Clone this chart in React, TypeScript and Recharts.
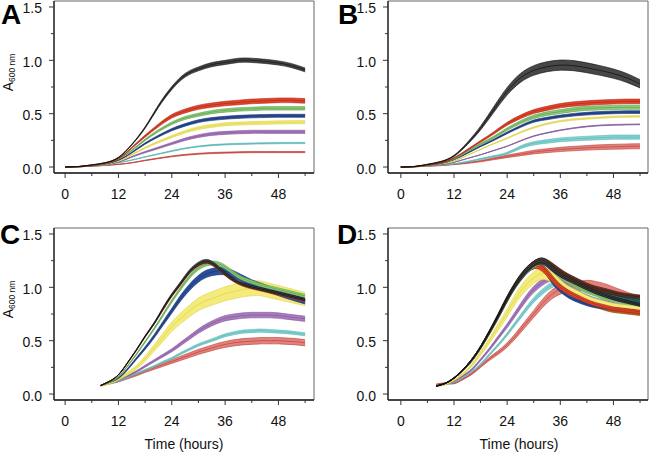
import React from 'react';
import { ComposedChart, Area, Line, XAxis, YAxis, ReferenceArea } from 'recharts';

// sampling times (hours)
const timeAB = [0, 3, 6, 9, 12, 15, 18, 21, 24, 27, 30, 33, 36, 39, 42, 45, 48, 51, 54];
const timeCD = [8, 10, 12, 14, 16, 18, 20, 22, 24, 26, 28, 30, 32, 34, 36, 38, 40, 42, 44, 46, 48, 50, 52, 54];

const xTicks = [0, 6, 12, 18, 24, 30, 36, 42, 48, 54];
const yTicks = [0, 0.25, 0.5, 0.75, 1, 1.25, 1.5];

// panel A
const aBlack = [0, 0.005, 0.02, 0.04, 0.09, 0.21, 0.37, 0.57, 0.74, 0.86, 0.92, 0.96, 0.98, 1.0, 1.0, 0.99, 0.975, 0.95, 0.91];
const aRed = [0, 0.004, 0.015, 0.035, 0.08, 0.18, 0.29, 0.39, 0.475, 0.525, 0.56, 0.58, 0.595, 0.605, 0.615, 0.62, 0.625, 0.625, 0.62];
const aGreen = [0, 0.004, 0.013, 0.032, 0.075, 0.155, 0.255, 0.34, 0.41, 0.46, 0.49, 0.515, 0.53, 0.54, 0.545, 0.55, 0.55, 0.55, 0.55];
const aBlue = [0, 0.003, 0.012, 0.03, 0.065, 0.135, 0.22, 0.29, 0.35, 0.395, 0.43, 0.45, 0.462, 0.47, 0.475, 0.478, 0.48, 0.48, 0.48];
const aYellow = [0, 0.003, 0.011, 0.027, 0.055, 0.115, 0.18, 0.235, 0.285, 0.33, 0.365, 0.385, 0.4, 0.407, 0.412, 0.415, 0.418, 0.42, 0.42];
const aPurple = [0, 0.003, 0.01, 0.024, 0.047, 0.095, 0.14, 0.18, 0.22, 0.26, 0.29, 0.31, 0.32, 0.326, 0.33, 0.33, 0.33, 0.33, 0.33];
const aCyan = [0, 0.002, 0.009, 0.02, 0.04, 0.065, 0.095, 0.122, 0.15, 0.175, 0.193, 0.205, 0.212, 0.217, 0.22, 0.222, 0.224, 0.225, 0.225];
const aSalmon = [0, 0.002, 0.008, 0.015, 0.025, 0.04, 0.062, 0.082, 0.1, 0.114, 0.124, 0.131, 0.135, 0.138, 0.14, 0.14, 0.14, 0.14, 0.14];

// panel B
const bBlack = [0, 0.005, 0.025, 0.05, 0.105, 0.22, 0.365, 0.54, 0.71, 0.835, 0.905, 0.94, 0.955, 0.95, 0.93, 0.905, 0.875, 0.835, 0.78];
const bRed = [0, 0.004, 0.018, 0.04, 0.085, 0.16, 0.24, 0.32, 0.405, 0.47, 0.52, 0.55, 0.575, 0.59, 0.6, 0.607, 0.612, 0.615, 0.615];
const bGreen = [0, 0.004, 0.016, 0.037, 0.075, 0.145, 0.215, 0.28, 0.355, 0.42, 0.47, 0.5, 0.52, 0.538, 0.55, 0.555, 0.558, 0.56, 0.56];
const bBlue = [0, 0.003, 0.015, 0.034, 0.07, 0.13, 0.195, 0.255, 0.32, 0.38, 0.43, 0.455, 0.475, 0.49, 0.5, 0.507, 0.512, 0.515, 0.515];
const bYellow = [0, 0.003, 0.013, 0.03, 0.055, 0.11, 0.165, 0.22, 0.27, 0.325, 0.37, 0.405, 0.43, 0.445, 0.455, 0.463, 0.47, 0.473, 0.475];
const bPurple = [0, 0.003, 0.012, 0.025, 0.045, 0.08, 0.115, 0.155, 0.195, 0.245, 0.29, 0.32, 0.345, 0.365, 0.38, 0.39, 0.395, 0.398, 0.4];
const bCyan = [0, 0.002, 0.01, 0.02, 0.03, 0.05, 0.075, 0.1, 0.13, 0.185, 0.222, 0.24, 0.255, 0.263, 0.27, 0.275, 0.28, 0.28, 0.28];
const bSalmon = [0, 0.002, 0.008, 0.015, 0.025, 0.038, 0.055, 0.078, 0.1, 0.12, 0.14, 0.153, 0.165, 0.173, 0.18, 0.186, 0.19, 0.193, 0.195];

// panel C
const cBlack = [0.08, 0.12, 0.18, 0.29, 0.41, 0.54, 0.66, 0.8, 0.93, 1.04, 1.15, 1.22, 1.245, 1.2, 1.13, 1.07, 1.03, 1.005, 0.985, 0.965, 0.945, 0.925, 0.905, 0.885];
const cRed = [0.08, 0.12, 0.18, 0.29, 0.41, 0.54, 0.66, 0.79, 0.92, 1.03, 1.14, 1.21, 1.235, 1.19, 1.12, 1.06, 1.02, 0.995, 0.975, 0.955, 0.935, 0.915, 0.895, 0.875];
const cGreen = [0.08, 0.11, 0.16, 0.26, 0.37, 0.49, 0.61, 0.74, 0.87, 0.99, 1.1, 1.18, 1.22, 1.225, 1.19, 1.13, 1.08, 1.05, 1.02, 1.0, 0.98, 0.96, 0.94, 0.92];
const cBlue = [0.08, 0.11, 0.15, 0.23, 0.33, 0.43, 0.54, 0.66, 0.78, 0.9, 1.0, 1.08, 1.13, 1.15, 1.15, 1.12, 1.08, 1.04, 1.01, 0.98, 0.95, 0.92, 0.895, 0.87];
const cYellow = [0.08, 0.1, 0.14, 0.19, 0.25, 0.33, 0.43, 0.53, 0.63, 0.71, 0.78, 0.84, 0.88, 0.91, 0.94, 0.96, 0.98, 0.99, 0.99, 0.97, 0.95, 0.93, 0.91, 0.89];
const cPurple = [0.08, 0.1, 0.13, 0.17, 0.21, 0.26, 0.31, 0.36, 0.41, 0.47, 0.53, 0.59, 0.64, 0.68, 0.71, 0.725, 0.735, 0.74, 0.74, 0.74, 0.735, 0.725, 0.715, 0.705];
const cCyan = [0.08, 0.1, 0.12, 0.155, 0.19, 0.225, 0.26, 0.3, 0.335, 0.38, 0.42, 0.46, 0.49, 0.52, 0.55, 0.57, 0.585, 0.59, 0.594, 0.59, 0.585, 0.58, 0.57, 0.56];
const cSalmon = [0.08, 0.1, 0.12, 0.15, 0.18, 0.215, 0.245, 0.275, 0.305, 0.335, 0.365, 0.395, 0.42, 0.445, 0.465, 0.48, 0.49, 0.495, 0.5, 0.5, 0.5, 0.495, 0.49, 0.48];

// panel D
const dBlack = [0.075, 0.1, 0.15, 0.225, 0.32, 0.44, 0.585, 0.74, 0.9, 1.04, 1.15, 1.225, 1.255, 1.19, 1.115, 1.07, 1.03, 0.99, 0.955, 0.925, 0.9, 0.875, 0.855, 0.835];
const dRed = [0.075, 0.1, 0.15, 0.225, 0.32, 0.44, 0.585, 0.74, 0.9, 1.03, 1.14, 1.2, 1.17, 1.08, 1.0, 0.95, 0.91, 0.87, 0.84, 0.82, 0.8, 0.79, 0.78, 0.77];
const dGreen = [0.075, 0.1, 0.15, 0.22, 0.31, 0.43, 0.57, 0.72, 0.88, 1.02, 1.13, 1.2, 1.23, 1.17, 1.1, 1.05, 1.0, 0.96, 0.93, 0.9, 0.88, 0.86, 0.85, 0.84];
const dBlue = [0.075, 0.1, 0.15, 0.22, 0.31, 0.43, 0.57, 0.72, 0.88, 1.02, 1.13, 1.19, 1.18, 1.06, 0.97, 0.91, 0.87, 0.84, 0.82, 0.81, 0.8, 0.79, 0.78, 0.77];
const dYellow = [0.075, 0.09, 0.13, 0.19, 0.27, 0.38, 0.5, 0.63, 0.76, 0.9, 1.01, 1.09, 1.13, 1.1, 1.02, 0.96, 0.92, 0.88, 0.85, 0.83, 0.81, 0.8, 0.79, 0.78];
const dPurple = [0.075, 0.09, 0.12, 0.17, 0.23, 0.32, 0.42, 0.53, 0.64, 0.76, 0.88, 0.98, 1.05, 1.09, 1.05, 0.99, 0.94, 0.9, 0.87, 0.85, 0.83, 0.81, 0.8, 0.79];
const dCyan = [0.075, 0.09, 0.11, 0.155, 0.21, 0.28, 0.37, 0.46, 0.56, 0.67, 0.78, 0.88, 0.96, 1.02, 1.04, 1.0, 0.95, 0.91, 0.88, 0.86, 0.84, 0.82, 0.81, 0.8];
const dSalmon = [0.09, 0.1, 0.1, 0.14, 0.19, 0.26, 0.33, 0.39, 0.46, 0.55, 0.65, 0.75, 0.85, 0.93, 0.98, 1.0, 1.01, 1.02, 1.01, 0.99, 0.96, 0.93, 0.9, 0.87];
const dTeal = [0.075, 0.1, 0.15, 0.225, 0.32, 0.44, 0.58, 0.73, 0.89, 1.03, 1.14, 1.22, 1.24, 1.2, 1.14, 1.09, 1.05, 1.01, 0.98, 0.95, 0.93, 0.91, 0.89, 0.87];
const dPlum = [0.075, 0.1, 0.15, 0.225, 0.32, 0.44, 0.58, 0.73, 0.89, 1.03, 1.14, 1.22, 1.24, 1.18, 1.12, 1.08, 1.04, 1.0, 0.96, 0.93, 0.9, 0.88, 0.86, 0.84];
const dBrown = [0.075, 0.1, 0.15, 0.225, 0.32, 0.44, 0.585, 0.74, 0.9, 1.04, 1.15, 1.22, 1.25, 1.21, 1.15, 1.1, 1.06, 1.02, 0.99, 0.97, 0.95, 0.93, 0.92, 0.91];
const dOrange = [0.075, 0.1, 0.15, 0.22, 0.31, 0.43, 0.57, 0.72, 0.88, 1.02, 1.13, 1.21, 1.19, 1.1, 1.01, 0.95, 0.9, 0.86, 0.83, 0.8, 0.78, 0.77, 0.76, 0.75];

const C = {
  black: ['#474747', '#0d0d0d'],
  red: ['#e3442c', '#b02a17'],
  green: ['#8fcd7b', '#5c9f4a'],
  blue: ['#2c4f9e', '#1a336e'],
  yellow: ['#f3ec7a', '#ddd24c'],
  purple: ['#a97abc', '#875a9c'],
  cyan: ['#88d5d3', '#59b6b3'],
  salmon: ['#e2827c', '#c03f3a'],
  teal: ['#1f6d6c', '#104544'],
  plum: ['#4c2a6c', '#2e1845'],
  brown: ['#5b2f22', '#3a1c12'],
  orange: ['#c4621c', '#8e430e'],
};

type Series = { name: string; values: number[]; cv: number; color: string[] };

const seriesA: Series[] = [
  { name: 'salmon', values: aSalmon, cv: 0.04, color: C.salmon },
  { name: 'cyan', values: aCyan, cv: 0.025, color: C.cyan },
  { name: 'purple', values: aPurple, cv: 0.045, color: C.purple },
  { name: 'yellow', values: aYellow, cv: 0.035, color: C.yellow },
  { name: 'blue', values: aBlue, cv: 0.03, color: C.blue },
  { name: 'green', values: aGreen, cv: 0.03, color: C.green },
  { name: 'red', values: aRed, cv: 0.035, color: C.red },
  { name: 'black', values: aBlack, cv: 0.02, color: C.black },
];
const seriesB: Series[] = [
  { name: 'salmon', values: bSalmon, cv: 0.12, color: C.salmon },
  { name: 'cyan', values: bCyan, cv: 0.07, color: C.cyan },
  { name: 'purple', values: bPurple, cv: 0.01, color: C.purple },
  { name: 'yellow', values: bYellow, cv: 0.015, color: C.yellow },
  { name: 'blue', values: bBlue, cv: 0.025, color: C.blue },
  { name: 'green', values: bGreen, cv: 0.035, color: C.green },
  { name: 'red', values: bRed, cv: 0.035, color: C.red },
  { name: 'black', values: bBlack, cv: 0.05, color: C.black },
];
const seriesC: Series[] = [
  { name: 'salmon', values: cSalmon, cv: 0.06, color: C.salmon },
  { name: 'cyan', values: cCyan, cv: 0.025, color: C.cyan },
  { name: 'purple', values: cPurple, cv: 0.035, color: C.purple },
  { name: 'yellow', values: cYellow, cv: 0.07, color: C.yellow },
  { name: 'blue', values: cBlue, cv: 0.03, color: C.blue },
  { name: 'green', values: cGreen, cv: 0.015, color: C.green },
  { name: 'red', values: cRed, cv: 0.01, color: C.red },
  { name: 'black', values: cBlack, cv: 0.013, color: C.black },
];
const seriesD: Series[] = [
  { name: 'salmon', values: dSalmon, cv: 0.045, color: C.salmon },
  { name: 'cyan', values: dCyan, cv: 0.025, color: C.cyan },
  { name: 'purple', values: dPurple, cv: 0.03, color: C.purple },
  { name: 'yellow', values: dYellow, cv: 0.05, color: C.yellow },
  { name: 'orange', values: dOrange, cv: 0.02, color: C.orange },
  { name: 'blue', values: dBlue, cv: 0.015, color: C.blue },
  { name: 'red', values: dRed, cv: 0.02, color: C.red },
  { name: 'green', values: dGreen, cv: 0.015, color: C.green },
  { name: 'plum', values: dPlum, cv: 0.02, color: C.plum },
  { name: 'teal', values: dTeal, cv: 0.02, color: C.teal },
  { name: 'brown', values: dBrown, cv: 0.02, color: C.brown },
  { name: 'black', values: dBlack, cv: 0.015, color: C.black },
];

const FONT = '"Liberation Sans", Arial, Helvetica, sans-serif';
const Y_DOMAIN: [number, number] = [-0.056, 1.556];

const XTick = (props: any) => {
  const { x, y, payload } = props;
  const major = payload.value % 12 === 0;
  return (
    <g>
      <line x1={x} x2={x} y1={y} y2={y + (major ? 5 : 3)} stroke="#333" strokeWidth={1} />
      {major && (
        <text x={x} y={y + 25.5} textAnchor="middle" fontSize={14} fontFamily={FONT} fill="#111">
          {payload.value}
        </text>
      )}
    </g>
  );
};

const YTick = (props: any) => {
  const { x, y, payload } = props;
  const major = Math.abs((payload.value * 2) % 1) < 1e-6;
  return (
    <g>
      <line x1={x} x2={x - (major ? 5 : 3)} y1={y} y2={y} stroke="#333" strokeWidth={1} />
      {major && (
        <text x={x - 12} y={y + 6.5} textAnchor="end" fontSize={14} fontFamily={FONT} fill="#111">
          {payload.value.toFixed(1)}
        </text>
      )}
    </g>
  );
};

function Panel({ left, top, times, series, xDomain }: { left: number; top: number; times: number[]; series: Series[]; xDomain: [number, number] }) {
  const data = times.map((t, i) => {
    const row: Record<string, any> = { t };
    series.forEach(s => {
      const v = s.values[i];
      row[s.name] = v;
      row[s.name + '_band'] = [v * (1 - s.cv), v * (1 + s.cv)];
    });
    return row;
  });

  return (
    <div style={{ position: 'absolute', left, top }}>
      <ComposedChart width={315} height={227} data={data} margin={{ top: 1, right: 1, bottom: 0, left: 0 }}>
        <XAxis
          type="number"
          dataKey="t"
          domain={xDomain}
          ticks={xTicks}
          interval={0}
          height={54}
          tickSize={0}
          tickMargin={0}
          tickLine={false}
          tick={XTick}
          axisLine={{ stroke: '#222', strokeWidth: 1.3 }}
          allowDataOverflow
        />
        <YAxis
          type="number"
          domain={Y_DOMAIN}
          ticks={yTicks}
          interval={0}
          width={54}
          tickSize={0}
          tickMargin={0}
          tickLine={false}
          tick={YTick}
          axisLine={{ stroke: '#222', strokeWidth: 1.3 }}
          allowDataOverflow
        />
        <ReferenceArea x1={xDomain[0]} x2={xDomain[1]} y1={Y_DOMAIN[0]} y2={Y_DOMAIN[1]} fill="none" stroke="#666" strokeWidth={1} />
        {series.map((s, i) => [
          <Area
            key={s.name + '-band'}
            type="natural"
            dataKey={s.name + '_band'}
            fill={s.color[0]}
            fillOpacity={1}
            stroke={s.color[1]}
            strokeWidth={0.6}
            isAnimationActive={false}
            zIndex={100 + i * 2}
          />,
          <Line
            key={s.name + '-mean'}
            type="natural"
            dataKey={s.name}
            stroke={s.color[1]}
            strokeWidth={0.7}
            dot={false}
            isAnimationActive={false}
            zIndex={101 + i * 2}
          />,
        ])}
      </ComposedChart>
    </div>
  );
}

const YLabel = ({ x, y }: { x: number; y: number }) => (
  <text transform={`translate(${x}, ${y}) rotate(-90)`} textAnchor="middle" fontFamily={FONT} fill="#111">
    <tspan fontSize={14}>A</tspan>
    <tspan fontSize={8.5} dy={1.8}>600 nm</tspan>
  </text>
);

export default function App() {
  return (
    <div style={{ position: 'absolute', left: 0, top: 0, width: 650, height: 454, background: '#fff', overflow: 'hidden' }}>
      <Panel left={0} top={0} times={timeAB} series={seriesA} xDomain={[-2.5, 56]} />
      <Panel left={334} top={0} times={timeAB} series={seriesB} xDomain={[-2.9, 55.8]} />
      <Panel left={0} top={227} times={timeCD} series={seriesC} xDomain={[-2.5, 56]} />
      <Panel left={334} top={227} times={timeCD} series={seriesD} xDomain={[-2.9, 55.8]} />
      <svg width={650} height={454} style={{ position: 'absolute', left: 0, top: 0, pointerEvents: 'none' }}>
        <g fontFamily={FONT} fontWeight="bold" fontSize={28} fill="#000">
          <text x={1} y={24}>A</text>
          <text x={338} y={24}>B</text>
          <text x={0} y={244}>C</text>
          <text x={337} y={244}>D</text>
        </g>
        <YLabel x={13} y={72.5} />
        <YLabel x={13} y={299.5} />
        <g fontFamily={FONT} fontSize={14} fill="#111" textAnchor="middle">
          <text x={184} y={449}>Time (hours)</text>
          <text x={519} y={449}>Time (hours)</text>
        </g>
      </svg>
    </div>
  );
}
